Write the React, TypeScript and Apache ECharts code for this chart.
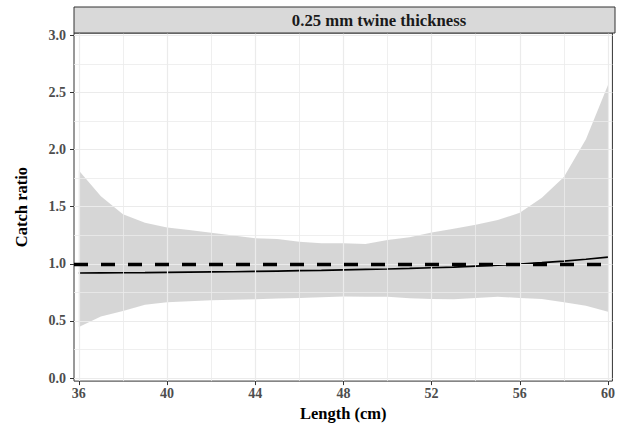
import React, { useEffect, useRef } from "react";
import * as echarts from "echarts";

const lengths = [36, 37, 38, 39, 40, 41, 42, 43, 44, 45, 46, 47, 48, 49, 50, 51, 52, 53, 54, 55, 56, 57, 58, 59, 60];
const upper = [1.817, 1.591, 1.435, 1.359, 1.319, 1.296, 1.272, 1.249, 1.223, 1.217, 1.194, 1.18, 1.18, 1.174, 1.209, 1.232, 1.274, 1.307, 1.342, 1.383, 1.448, 1.578, 1.76, 2.09, 2.565];
const lower = [0.448, 0.54, 0.587, 0.642, 0.665, 0.673, 0.682, 0.685, 0.69, 0.697, 0.702, 0.708, 0.714, 0.711, 0.711, 0.699, 0.692, 0.69, 0.702, 0.712, 0.701, 0.692, 0.665, 0.633, 0.58];
const fitted = [0.920, 0.921, 0.922, 0.923, 0.925, 0.927, 0.929, 0.931, 0.934, 0.937, 0.940, 0.943, 0.947, 0.951, 0.955, 0.960, 0.966, 0.972, 0.980, 0.988, 0.998, 1.010, 1.024, 1.040, 1.058];
const referenceLevel = 1.0;

const xTicks = [36, 40, 44, 48, 52, 56, 60];
const xMinor = [38, 42, 46, 50, 54, 58];
const yTicks = [0, 0.5, 1.0, 1.5, 2.0, 2.5, 3.0];
const yMinor = [0.25, 0.75, 1.25, 1.75, 2.25, 2.75];

const stripTitle = "0.25 mm twine thickness";
const xTitle = "Length (cm)";
const yTitle = "Catch ratio";

const FONT = "'Liberation Serif', 'Times New Roman', serif";

export default function App() {
  const ref = useRef<HTMLDivElement>(null);
  useEffect(() => {
    if (!ref.current) return;
    const chart = echarts.init(ref.current, null, { renderer: "svg" });
    const gridColor = "#ebebeb";
    const gridLines: any[] = [];
    xTicks.forEach((v) => gridLines.push({ xAxis: v, lineStyle: { width: 1.2, color: gridColor, type: "solid" } }));
    xMinor.forEach((v) => gridLines.push({ xAxis: v, lineStyle: { width: 0.8, color: gridColor, type: "solid" } }));
    yTicks.forEach((v) => gridLines.push({ yAxis: v, lineStyle: { width: 1.2, color: gridColor, type: "solid" } }));
    yMinor.forEach((v) => gridLines.push({ yAxis: v, lineStyle: { width: 0.8, color: gridColor, type: "solid" } }));

    const bandData = lengths.map((x, i) => [x, lower[i], upper[i]]);
    const fitData = lengths.map((x, i) => [x, fitted[i]]);

    chart.setOption({
      animation: false,
      textStyle: { fontFamily: FONT },
      grid: {
        left: 74,
        right: 3,
        top: 33,
        bottom: 40,
        show: true,
        borderColor: "#333333",
        borderWidth: 1,
        backgroundColor: "#ffffff",
        containLabel: false,
      },
      xAxis: {
        type: "value",
        min: 35.78,
        max: 60.2,
        name: xTitle,
        nameLocation: "middle",
        nameGap: 22,
        nameTextStyle: { fontFamily: FONT, fontWeight: "bold", fontSize: 16.5, color: "#000000" },
        axisLine: { show: false, onZero: false },
        axisTick: { show: true, length: 4, customValues: xTicks, lineStyle: { color: "#333333", width: 1 } },
        axisLabel: {
          customValues: xTicks,
          margin: 5,
          fontFamily: FONT,
          fontWeight: "bold",
          fontSize: 14,
          color: "#4d4d4d",
        },
        splitLine: { show: false },
      },
      yAxis: {
        type: "value",
        min: -0.026,
        max: 3.02,
        name: yTitle,
        nameLocation: "middle",
        nameGap: 44,
        nameRotate: 90,
        nameTextStyle: { fontFamily: FONT, fontWeight: "bold", fontSize: 16.5, color: "#000000" },
        axisLine: { show: false, onZero: false },
        axisTick: { show: true, length: 4, customValues: yTicks, lineStyle: { color: "#333333", width: 1 } },
        axisLabel: {
          customValues: yTicks,
          margin: 8,
          fontFamily: FONT,
          fontWeight: "bold",
          fontSize: 14,
          color: "#4d4d4d",
          formatter: (v: number) => v.toFixed(1),
        },
        splitLine: { show: false },
      },
      series: [
        {
          type: "line",
          name: "grid",
          data: [],
          z: 1,
          silent: true,
          markLine: {
            silent: true,
            symbol: "none",
            label: { show: false },
            emphasis: { disabled: true },
            data: gridLines,
          },
        },
        {
          type: "custom",
          name: "band",
          data: bandData,
          z: 2,
          silent: true,
          encode: { x: 0, y: [1, 2] },
          renderItem: (params: any, api: any) => {
            if (params.dataIndex !== 0) return null;
            const top = bandData.map((d) => api.coord([d[0], d[2]]));
            const bottom = bandData
              .slice()
              .reverse()
              .map((d) => api.coord([d[0], d[1]]));
            return {
              type: "polygon",
              shape: { points: top.concat(bottom) },
              style: { fill: "rgba(153,153,153,0.4)", stroke: "none" },
            };
          },
        },
        {
          type: "line",
          name: "fit",
          data: fitData,
          symbol: "none",
          smooth: false,
          lineStyle: { color: "#000000", width: 1.7 },
          z: 3,
          silent: true,
        },
        {
          type: "line",
          name: "reference",
          data: [],
          z: 4,
          silent: true,
          markLine: {
            silent: true,
            symbol: "none",
            label: { show: false },
            emphasis: { disabled: true },
            data: [{ yAxis: referenceLevel }],
            lineStyle: { color: "#000000", width: 3.4, type: [14, 13], cap: "butt" },
          },
        },
      ],
      graphic: [
        {
          type: "rect",
          shape: { x: 74, y: 7, width: 541, height: 26 },
          style: { fill: "#d9d9d9", stroke: "#333333", lineWidth: 1 },
          z: 10,
        },
        {
          type: "text",
          x: 379,
          y: 20.5,
          style: {
            text: stripTitle,
            fontFamily: FONT,
            fontWeight: "bold",
            fontSize: 16.7,
            fill: "#1a1a1a",
            align: "center",
            verticalAlign: "middle",
          },
          z: 11,
        },
      ],
    });
    return () => chart.dispose();
  }, []);
  return <div ref={ref} style={{ width: 618, height: 427, position: "absolute", left: 0, top: 0 }} />;
}
